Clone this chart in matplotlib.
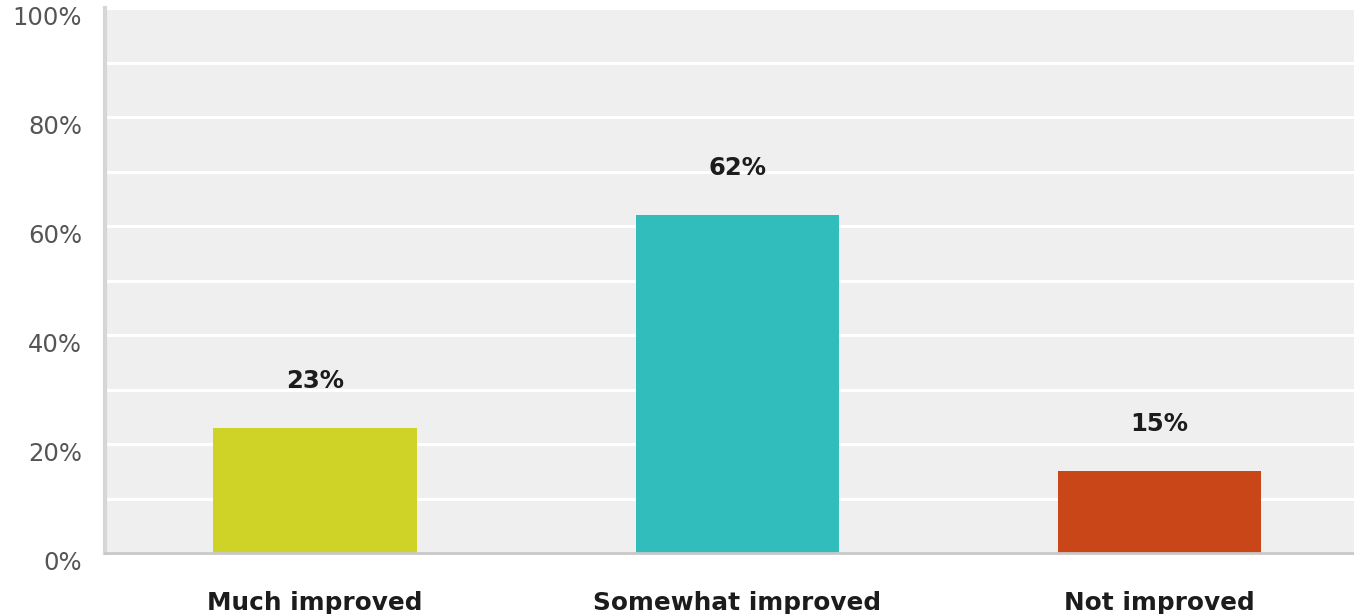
import matplotlib
matplotlib.use("Agg")
import matplotlib.pyplot as plt
from matplotlib.ticker import MultipleLocator

categories = ["Much improved", "Somewhat improved", "Not improved"]
values = [23, 62, 15]
value_labels = ["23%", "62%", "15%"]
colors = ["#cfd327", "#32bdbd", "#c94619"]
ytick_values = [0, 20, 40, 60, 80, 100]
ytick_labels = ["0%", "20%", "40%", "60%", "80%", "100%"]

plt.rcParams['font.family'] = ['DejaVu Sans']

fig = plt.figure(figsize=(13.54, 6.14), dpi=100)
ax = fig.add_axes([105/1354, 1 - 553/614, (1354 - 105)/1354, (553 - 8)/614])
ax.set_facecolor("#efefef")

x = list(range(len(categories)))
ax.bar(x, values, width=0.482, color=colors, zorder=3)

ax.set_xlim(-0.497, 2.46)
ax.set_ylim(0, 100)
ax.yaxis.set_minor_locator(MultipleLocator(10))
ax.set_yticks(ytick_values)
ax.set_yticklabels([])
ax.grid(True, which="both", axis="y", color="white", linewidth=2.2, zorder=1)
ax.tick_params(axis="y", which="both", length=0)
ax.tick_params(axis="x", length=0)
ax.set_xticks(x)
ax.set_xticklabels([])

for v, lab in zip(ytick_values, ytick_labels):
    ax.annotate(lab, xy=(0, v), xycoords=("axes fraction", "data"),
                xytext=(-23, -10), textcoords="offset pixels",
                ha="right", va="center", fontsize=17.5, color="#555555")

for xi, cat in zip(x, categories):
    ax.annotate(cat, xy=(xi, 0), xycoords=("data", "data"),
                xytext=(0, -57), textcoords="offset pixels",
                ha="center", va="baseline", fontsize=17.8, fontweight="bold",
                color="#1c1c1c")

for xi, v, lab in zip(x, values, value_labels):
    ax.annotate(lab, xy=(xi, v), xytext=(0, 40), textcoords="offset pixels",
                ha="center", va="baseline", fontsize=17.5, fontweight="bold",
                color="#1c1c1c")

for s in ["top", "right"]:
    ax.spines[s].set_visible(False)
ax.spines["left"].set_color("#d6d6d6")
ax.spines["left"].set_linewidth(3)
ax.spines["bottom"].set_color("#c8c8c8")
ax.spines["bottom"].set_linewidth(2)
ax.spines["left"].set_zorder(4)
ax.spines["bottom"].set_zorder(4)

fig.savefig("out.png", dpi=100, facecolor="white")
